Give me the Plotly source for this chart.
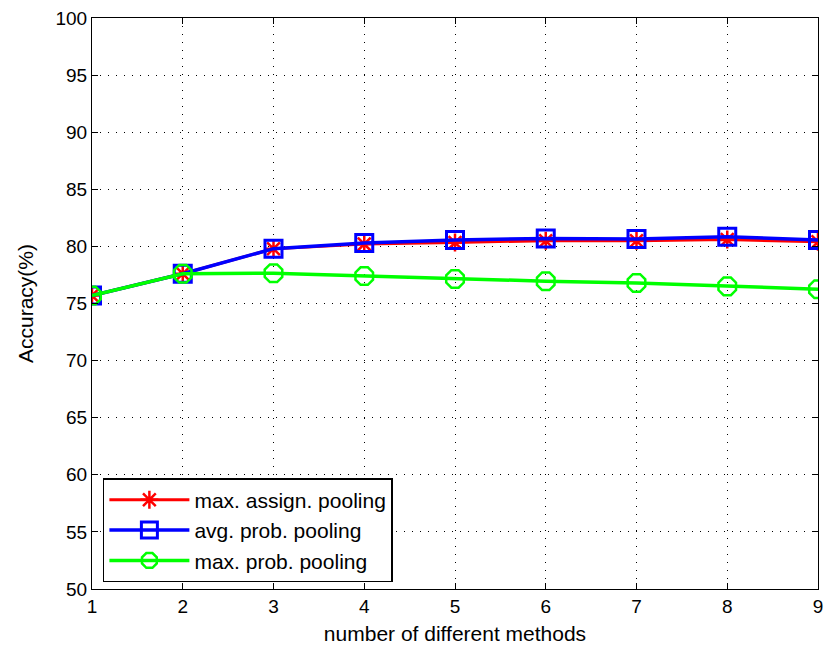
import plotly.graph_objects as go

x_vals = [1, 2, 3, 4, 5, 6, 7, 8, 9]
max_assign = [75.7, 77.6, 79.8, 80.2, 80.35, 80.5, 80.5, 80.6, 80.4]
avg_prob = [75.7, 77.6, 79.8, 80.3, 80.55, 80.7, 80.65, 80.85, 80.55]
max_prob = [75.7, 77.6, 77.65, 77.4, 77.15, 76.95, 76.8, 76.5, 76.25]
names = ["max. assign. pooling", "avg. prob. pooling", "max. prob. pooling"]
y_ticks = [50, 55, 60, 65, 70, 75, 80, 85, 90, 95, 100]

font = "Liberation Sans, Arial, sans-serif"

fig = go.Figure()
fig.add_trace(go.Scatter(x=x_vals, y=max_assign, name=names[0], mode="lines+markers",
                         line=dict(color="#ff0000", width=3),
                         marker=dict(symbol="asterisk-open", size=15, line=dict(color="#ff0000", width=2.5))))
fig.add_trace(go.Scatter(x=x_vals, y=avg_prob, name=names[1], mode="lines+markers",
                         line=dict(color="#0000ff", width=3.5),
                         marker=dict(symbol="square-open", size=17, color="#0000ff", line=dict(color="#0000ff", width=3))))
fig.add_trace(go.Scatter(x=x_vals, y=max_prob, name=names[2], mode="lines+markers",
                         line=dict(color="#00ff00", width=3.5),
                         marker=dict(symbol="octagon-open", size=19, color="#00ff00", line=dict(color="#00ff00", width=2.5))))

grid = dict(showgrid=True, gridcolor="black", gridwidth=1, griddash="1px,7px",
            showline=True, linecolor="black", linewidth=1, mirror="ticks",
            ticks="inside", ticklen=6, tickcolor="black", zeroline=False,
            tickfont=dict(family=font, size=19, color="black"))

fig.update_xaxes(range=[1, 9], tickvals=x_vals, title=dict(text="number of different methods",
                 font=dict(family=font, size=21, color="black"), standoff=10), **grid)
fig.update_yaxes(range=[50, 100], tickvals=y_ticks, title=dict(text="Accuracy(%)",
                 font=dict(family=font, size=21, color="black"), standoff=16), **grid)

fig.update_layout(
    width=824, height=650,
    margin=dict(l=92, r=6, t=18, b=61, autoexpand=False),
    paper_bgcolor="white", plot_bgcolor="white",
    showlegend=True,
    legend=dict(x=0.015, y=0.012, xanchor="left", yanchor="bottom",
                bgcolor="white", bordercolor="black", borderwidth=1.5,
                font=dict(family=font, size=21, color="black"),
                itemwidth=80, tracegroupgap=0),
)

fig.write_html("out.html")
